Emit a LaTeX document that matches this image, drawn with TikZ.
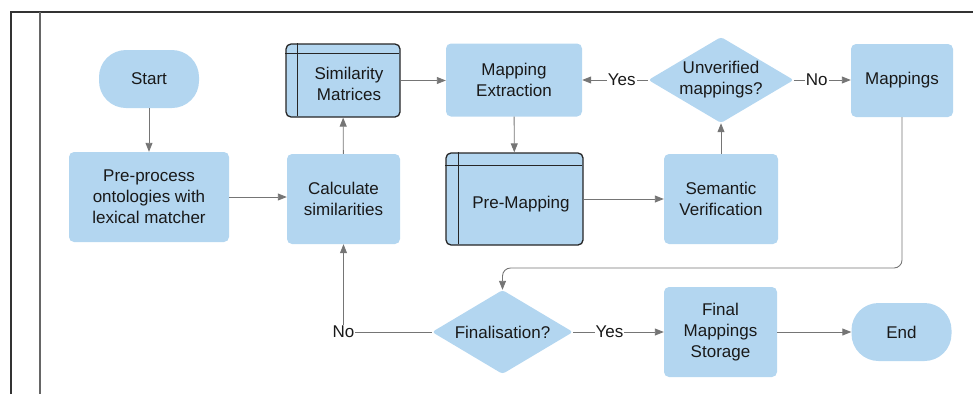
\documentclass[tikz,border=0pt]{standalone}
\usepackage{fontspec}
\setmainfont{Liberation Sans}
\usetikzlibrary{arrows.meta,shapes.geometric}
\definecolor{boxblue}{HTML}{B3D6F0}
\definecolor{linegray}{HTML}{757575}
\begin{document}
\begin{tikzpicture}[x=1pt,y=-1pt,
  every node/.style={font=\fontsize{17}{21}\selectfont, text=black!90, align=center},
  proc/.style={fill=boxblue, rounded corners=5pt, inner sep=0pt},
  term/.style={fill=boxblue, rounded corners=27pt, inner sep=0pt, minimum width=100pt, minimum height=58pt},
  dec/.style={diamond, fill=boxblue, rounded corners=3pt, inner sep=0pt, aspect=1.69},
  store/.style={fill=boxblue, draw=black!85, line width=1.3pt, rounded corners=5pt, inner sep=0pt},
  inner/.style={draw=black!85, line width=1.3pt},
  conn/.style={draw=linegray, line width=0.9pt, -{Triangle[length=9pt,width=7pt]}},
  lbl/.style={fill=white, inner sep=1pt}
]
\useasboundingbox (0,0) rectangle (973,394);
% frame
\draw[black!80, line width=1.6pt] (11,394) -- (11,12) -- (975,12);
\draw[black!60, line width=1.3pt] (40,12) -- (40,394);

% nodes
\node[term] (start) at (149,79) {Start};
\node[proc, minimum width=160pt, minimum height=90pt] (pre) at (149,197) {Pre-process\\ontologies with\\lexical matcher};
\node[proc, minimum width=113pt, minimum height=90pt] (calc) at (343.5,199) {Calculate\\similarities};
\node[store, minimum width=114pt, minimum height=73pt] (sim) at (343,80.5) {};
\draw[inner] (sim.north west) ++(12,0) -- ++(0,73);
\draw[inner] (sim.north west) ++(0,10) -- ++(114,0);
\node (simtext) at (349,84) {Similarity\\Matrices};
\node[proc, minimum width=136pt, minimum height=73pt] (ext) at (514,80) {Mapping\\Extraction};
\node[store, minimum width=137pt, minimum height=92pt] (pm) at (514.5,199) {};
\draw[inner] (pm.north west) ++(13,0) -- ++(0,92);
\draw[inner] (pm.north west) ++(0,13) -- ++(137,0);
\node (pmtext) at (521,204) {Pre-Mapping};
\node[dec, minimum width=142pt, minimum height=84pt] (unv) at (721,80) {Unverified\\mappings?};
\node[proc, minimum width=102pt, minimum height=73pt] (map) at (902,80.5) {Mappings};
\node[proc, minimum width=114pt, minimum height=90pt] (sem) at (721,199) {Semantic\\Verification};
\node[dec, minimum width=141pt, minimum height=84pt] (fin) at (502.5,332) {Finalisation?};
\node[proc, minimum width=113pt, minimum height=90pt] (fms) at (720.5,332) {Final\\Mappings\\Storage};
\node[term] (end) at (901.5,332) {End};

% connectors
\draw[conn] (start) -- (pre);
\draw[conn] (pre.east) -- (calc.west |- pre.east);
\draw[conn] (calc) -- (sim);
\draw[conn] (sim.east) -- (sim.east -| ext.west);
\draw[conn] (ext) -- (pm);
\draw[conn] (pm.east |- sem.west) -- (sem.west);
\draw[conn] (sem) -- (unv);
\draw[conn] (unv.west) -- node[lbl, pos=0.4] {Yes} (unv.west -| ext.east);
\draw[conn] (unv.east) -- node[lbl, pos=0.4] {No} (unv.east -| map.west);
\draw[conn, rounded corners=8pt] (map.south) -- (902,268) -- (502.5,268) -- (fin.north);
\coordinate (nocorner) at (343.5,332);
\draw[conn] (fin.west) -- (nocorner) -- (calc.south);
\node[lbl] at (nocorner) {No};
\draw[conn] (fin.east) -- node[lbl, pos=0.4] {Yes} (fms.west);
\draw[conn] (fms) -- (end);
\end{tikzpicture}
\end{document}
